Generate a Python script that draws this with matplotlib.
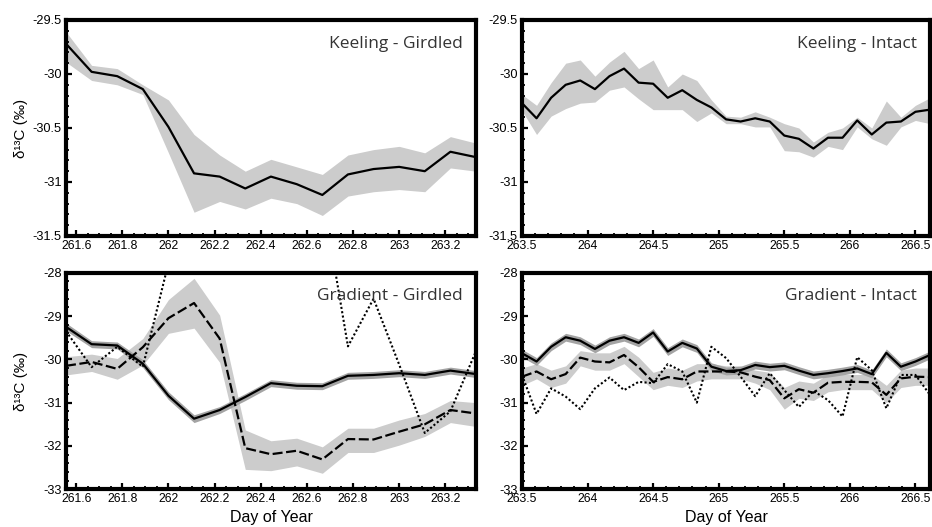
import matplotlib
matplotlib.use("Agg")
import matplotlib.pyplot as plt
from matplotlib.ticker import MultipleLocator, FuncFormatter
import numpy as np

nan = np.nan

# ---- data ----
day_girdled = [261.556, 261.667, 261.778, 261.889, 262.000, 262.111, 262.222, 262.333, 262.444,
               262.556, 262.667, 262.778, 262.889, 263.000, 263.111, 263.222, 263.333]
day_intact = [263.500, 263.611, 263.722, 263.833, 263.944, 264.056, 264.167, 264.278, 264.389,
              264.500, 264.611, 264.722, 264.833, 264.944, 265.056, 265.167, 265.278, 265.389,
              265.500, 265.611, 265.722, 265.833, 265.944, 266.056, 266.167, 266.278, 266.389,
              266.500, 266.611]

# Keeling - Girdled
kg_mean = [-29.72, -29.98, -30.02, -30.14, -30.49, -30.92, -30.95, -31.06, -30.95, -31.02,
           -31.12, -30.93, -30.88, -30.86, -30.90, -30.72, -30.77]
kg_hi = [-29.61, -29.92, -29.95, -30.10, -30.24, -30.56, -30.75, -30.90, -30.79, -30.86,
         -30.93, -30.75, -30.70, -30.67, -30.73, -30.58, -30.64]
kg_lo = [-29.89, -30.06, -30.10, -30.19, -30.73, -31.28, -31.18, -31.25, -31.15, -31.20,
         -31.31, -31.13, -31.09, -31.07, -31.09, -30.87, -30.90]

# Keeling - Intact
ki_mean = [-30.27, -30.41, -30.22, -30.10, -30.06, -30.14, -30.02, -29.95, -30.08, -30.09,
           -30.22, -30.15, -30.24, -30.31, -30.42, -30.44, -30.41, -30.44, -30.57, -30.60,
           -30.69, -30.59, -30.59, -30.43, -30.56, -30.45, -30.44, -30.35, -30.33]
ki_hi = [-30.19, -30.29, -30.08, -29.90, -29.87, -30.02, -29.89, -29.79, -29.95, -29.87,
         -30.12, -30.00, -30.06, -30.24, -30.39, -30.40, -30.35, -30.40, -30.46, -30.50,
         -30.63, -30.54, -30.50, -30.40, -30.50, -30.25, -30.40, -30.29, -30.22]
ki_lo = [-30.34, -30.56, -30.39, -30.32, -30.27, -30.26, -30.15, -30.12, -30.23, -30.33,
         -30.33, -30.33, -30.44, -30.36, -30.46, -30.46, -30.49, -30.49, -30.71, -30.72,
         -30.77, -30.67, -30.70, -30.49, -30.60, -30.66, -30.49, -30.43, -30.46]

# Gradient - Girdled
gg_solid = [-29.25, -29.65, -29.68, -30.10, -30.84, -31.37, -31.17, -30.87, -30.55, -30.61,
            -30.62, -30.38, -30.36, -30.32, -30.36, -30.26, -30.34]
gg_solid_sd = [0.09, 0.08, 0.08, 0.09, 0.09, 0.09, 0.08, 0.08, 0.08, 0.08,
               0.08, 0.08, 0.08, 0.08, 0.08, 0.08, 0.08]
gg_dash = [-30.15, -30.06, -30.22, -29.72, -29.05, -28.70, -29.52, -32.05, -32.19, -32.11,
           -32.31, -31.84, -31.85, -31.67, -31.50, -31.17, -31.25]
gg_dash_hi = [-29.94, -29.88, -29.98, -29.52, -28.62, -28.13, -28.98, -31.63, -31.88, -31.82,
              -32.02, -31.59, -31.59, -31.40, -31.25, -30.95, -31.00]
gg_dash_lo = [-30.36, -30.28, -30.46, -30.13, -29.40, -29.28, -30.07, -32.54, -32.57, -32.46,
              -32.63, -32.15, -32.15, -31.98, -31.78, -31.46, -31.55]
gg_dot = [-29.35, -30.18, -29.71, -30.17, -27.78, nan, nan, nan, nan, nan,
          -26.20, -29.70, -28.60, -30.12, -31.70, -31.20, -29.81]

# Gradient - Intact
gi_solid = [-29.86, -30.05, -29.71, -29.49, -29.57, -29.76, -29.57, -29.49, -29.62, -29.38,
            -29.82, -29.62, -29.75, -30.17, -30.27, -30.25, -30.13, -30.18, -30.15, -30.26,
            -30.36, -30.32, -30.27, -30.21, -30.34, -29.85, -30.17, -30.05, -29.90]
gi_solid_sd = [0.09, 0.09, 0.09, 0.09, 0.09, 0.09, 0.09, 0.09, 0.09, 0.09,
               0.09, 0.09, 0.09, 0.09, 0.09, 0.09, 0.09, 0.09, 0.09, 0.09,
               0.09, 0.09, 0.09, 0.09, 0.09, 0.09, 0.09, 0.09, 0.09]
gi_dash = [-30.40, -30.28, -30.46, -30.34, -29.96, -30.05, -30.07, -29.90, -30.18, -30.52,
           -30.41, -30.46, -30.28, -30.28, -30.28, -30.30, -30.40, -30.48, -30.90, -30.69,
           -30.77, -30.54, -30.52, -30.52, -30.53, -30.82, -30.44, -30.40, -30.41]
gi_dash_hi = [-30.20, -30.10, -30.25, -30.15, -29.80, -29.85, -29.85, -29.70, -29.95, -30.30,
              -30.20, -30.25, -30.10, -30.10, -30.15, -30.15, -30.25, -30.30, -30.65, -30.50,
              -30.55, -30.35, -30.35, -30.35, -30.35, -30.60, -30.25, -30.20, -30.20]
gi_dash_lo = [-30.60, -30.45, -30.65, -30.55, -30.15, -30.25, -30.25, -30.10, -30.40, -30.70,
              -30.60, -30.65, -30.50, -30.45, -30.45, -30.45, -30.55, -30.70, -31.15, -30.90,
              -30.95, -30.75, -30.70, -30.70, -30.70, -31.00, -30.65, -30.60, -30.60]
gi_dot = [-30.36, -31.26, -30.67, -30.86, -31.15, -30.67, -30.42, -30.71, -30.52, -30.55,
          -30.11, -30.28, -31.00, -29.71, -29.97, -30.40, -30.85, -30.32, -30.71, -31.10,
          -30.73, -30.94, -31.32, -29.95, -30.25, -31.13, -30.36, -30.36, -30.82]

# ---- style ----
plt.rcParams["axes.unicode_minus"] = False
BAND = "#cccccc"
HALO = "#a4a4a4"
XTICK_FONT = ["Liberation Sans Narrow", "Liberation Sans", "DejaVu Sans"]
YTICK_FONT = ["Liberation Sans", "DejaVu Sans"]
LABEL_FONT = ["Liberation Sans", "DejaVu Sans"]
TITLE_FONT = ["Open Sans", "DejaVu Sans"]

fig = plt.figure(figsize=(9.32, 5.27), dpi=100)
W, H = 932, 527


def make_ax(x0, x1, y0, y1):
    return fig.add_axes([x0 / W, (H - y1) / H, (x1 - x0) / W, (y1 - y0) / H])


def style(ax, xmaj, xmin, ymaj, ymin):
    for s in ax.spines.values():
        s.set_linewidth(3.0)
    ax.xaxis.set_major_locator(MultipleLocator(xmaj))
    ax.xaxis.set_minor_locator(MultipleLocator(xmin))
    ax.yaxis.set_major_locator(MultipleLocator(ymaj))
    ax.yaxis.set_minor_locator(MultipleLocator(ymin))
    fmt = FuncFormatter(lambda v, p: f"{v:g}")
    ax.xaxis.set_major_formatter(fmt)
    ax.yaxis.set_major_formatter(fmt)
    ax.tick_params(which="both", direction="in", top=False, right=False)
    ax.tick_params(which="major", length=4.5, width=1.6)
    ax.tick_params(which="minor", length=2.2, width=1.3)
    ax.tick_params(axis="x", which="major", pad=3)
    ax.tick_params(axis="y", which="major", pad=3)
    for lab in ax.get_xticklabels():
        lab.set_family(XTICK_FONT)
        lab.set_fontsize(8.8)
    for lab in ax.get_yticklabels():
        lab.set_family(YTICK_FONT)
        lab.set_fontsize(9.2)


def title(ax, txt):
    ax.text(0.968, 0.872, txt, transform=ax.transAxes, ha="right", va="baseline",
            fontsize=12.5, color="#333333", family=TITLE_FONT)


ax1 = make_ax(66, 476, 20, 236)
ax2 = make_ax(522, 930, 20, 236)
ax3 = make_ax(66, 476, 272.7, 489.3)
ax4 = make_ax(522, 930, 272.7, 489.3)

lw = 1.6
dash = (0, (4.5, 1.6))
dot = (0, (1, 1.1))

# Keeling - Girdled
ax1.fill_between(day_girdled, kg_lo, kg_hi, color=BAND, lw=0)
ax1.plot(day_girdled, kg_mean, color="black", lw=lw)
ax1.set_xlim(day_girdled[0], day_girdled[-1])
ax1.set_ylim(-31.5, -29.5)

# Keeling - Intact
ax2.fill_between(day_intact, ki_lo, ki_hi, color=BAND, lw=0)
ax2.plot(day_intact, ki_mean, color="black", lw=lw)
ax2.set_xlim(day_intact[0], day_intact[-1])
ax2.set_ylim(-31.5, -29.5)

# Gradient - Girdled
s = np.array(gg_solid)
e = np.array(gg_solid_sd)
ax3.fill_between(day_girdled, gg_dash_lo, gg_dash_hi, color=BAND, lw=0)
ax3.fill_between(day_girdled, s - e, s + e, color=HALO, lw=0)
ax3.plot(day_girdled, gg_solid, color="black", lw=lw)
ax3.plot(day_girdled, gg_dash, color="black", lw=lw, ls=dash)
ax3.plot(day_girdled, gg_dot, color="black", lw=1.5, ls=dot)
ax3.set_xlim(day_girdled[0], day_girdled[-1])
ax3.set_ylim(-33, -28)

# Gradient - Intact
s = np.array(gi_solid)
e = np.array(gi_solid_sd)
ax4.fill_between(day_intact, gi_dash_lo, gi_dash_hi, color=BAND, lw=0)
ax4.fill_between(day_intact, s - e, s + e, color=HALO, lw=0)
ax4.plot(day_intact, gi_solid, color="black", lw=lw)
ax4.plot(day_intact, gi_dash, color="black", lw=lw, ls=dash)
ax4.plot(day_intact, gi_dot, color="black", lw=1.5, ls=dot)
ax4.set_xlim(day_intact[0], day_intact[-1])
ax4.set_ylim(-33, -28)

style(ax1, 0.2, 0.05, 0.5, 0.1)
style(ax2, 0.5, 0.1, 0.5, 0.1)
style(ax3, 0.2, 0.05, 1, 0.2)
style(ax4, 0.5, 0.1, 1, 0.2)

title(ax1, "Keeling - Girdled")
title(ax2, "Keeling - Intact")
title(ax3, "Gradient - Girdled")
title(ax4, "Gradient - Intact")

for ax in (ax1, ax3):
    ax.set_ylabel("δ¹³C (‰)", fontsize=11, family=LABEL_FONT)
    ax.yaxis.set_label_coords(-0.093, 0.5)
for ax in (ax3, ax4):
    ax.set_xlabel("Day of Year", fontsize=11.5, family=LABEL_FONT)
    ax.xaxis.set_label_coords(0.5, -0.095)

fig.savefig("out.png", dpi=100)
